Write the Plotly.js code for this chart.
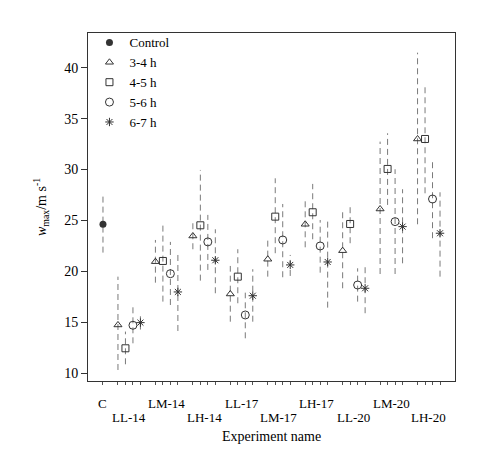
<!DOCTYPE html>
<html>
<head>
<meta charset="utf-8">
<script src="https://cdn.plot.ly/plotly-3.0.1.min.js"></script>
<style>html,body{margin:0;padding:0;background:#fff;}#chart{width:485px;height:449px;}</style>
</head>
<body>
<div id="chart"></div>
<script>
// ---- data ----
var categories = ['LL-14','LM-14','LH-14','LL-17','LM-17','LH-17','LL-20','LM-20','LH-20'];
var seriesNames = ['3-4 h','4-5 h','5-6 h','6-7 h'];

var controlLabel = 'C';
var controlMean = 24.63, controlHi = 27.5, controlLo = 21.85;

var h34Mean = [14.75, 20.96, 23.48, 17.79, 21.20, 24.63, 22.04, 26.13, 33.00];
var h34Hi   = [19.49, 23.09, 24.73, 20.54, 23.09, 27.18, 25.87, 32.74, 41.47];
var h34Lo   = [10.33, 18.90, 22.18, 15.07, 19.49, 22.37, 18.35, 19.75, 24.63];

var h45Mean = [12.46, 21.03, 24.53, 19.49, 25.38, 25.81, 24.66, 30.06, 33.00];
var h45Hi   = [14.10, 24.83, 29.96, 22.18, 29.14, 28.59, 26.62, 33.56, 38.14];
var h45Lo   = [10.89, 17.04, 19.10, 16.88, 21.79, 23.16, 22.77, 26.53, 27.67];

var h56Mean = [14.72, 19.78, 22.90, 15.73, 23.09, 22.50, 18.67, 24.89, 27.11];
var h56Hi   = [16.71, 22.90, 25.55, 17.92, 26.62, 25.05, 20.31, 30.03, 31.11];
var h56Lo   = [12.95, 16.71, 20.15, 13.44, 19.43, 19.88, 17.04, 19.75, 23.26];

var h67Mean = [14.98, 17.99, 21.10, 17.62, 20.64, 20.93, 18.35, 24.40, 23.75];
var h67Hi   = [15.60, 21.85, 24.14, 20.22, 21.62, 25.22, 20.74, 28.07, 27.77];
var h67Lo   = [14.30, 14.16, 17.86, 15.07, 19.56, 16.45, 15.90, 20.80, 19.49];

var yTickVals = [10, 15, 20, 25, 30, 35, 40];

// ---- layout helpers (positions) ----
var means = [h34Mean, h45Mean, h56Mean, h67Mean];
var his = [h34Hi, h45Hi, h56Hi, h67Hi];
var los = [h34Lo, h45Lo, h56Lo, h67Lo];
var symbols = ['triangle-up-open', 'square-open', 'circle-open', 'asterisk-open'];
var sizes = [7, 7, 8, 7];
function pos(g, k) { return 2 + 5 * g + k; }

var lineColor = '#7a7a7a';
var markColor = '#333333';
var font = 'Liberation Serif, Times New Roman, serif';

// error lines (dashed, no caps)
var ex = [0, 0, null], ey = [controlLo, controlHi, null];
for (var k = 0; k < 4; k++) {
  for (var g = 0; g < categories.length; g++) {
    ex.push(pos(g, k), pos(g, k), null);
    ey.push(los[k][g], his[k][g], null);
  }
}
var traces = [{
  x: ex, y: ey, mode: 'lines', showlegend: false, hoverinfo: 'skip',
  line: {color: lineColor, width: 1, dash: '6px,4px'}
}];

traces.push({
  x: [0], y: [controlMean], mode: 'markers', name: 'Control',
  marker: {symbol: 'circle', size: 7, color: markColor}
});
for (var k = 0; k < 4; k++) {
  var xs = [];
  for (var g = 0; g < categories.length; g++) xs.push(pos(g, k));
  traces.push({
    x: xs, y: means[k], mode: 'markers', name: seriesNames[k],
    marker: {symbol: symbols[k], size: sizes[k], color: markColor, line: {color: markColor, width: 1}}
  });
}

var tickPos = [0];
for (var g = 0; g < categories.length; g++) for (var k = 0; k < 4; k++) tickPos.push(pos(g, k));

var annotations = [];
var labelX = [0], labelT = [controlLabel];
for (var g = 0; g < categories.length; g++) { labelX.push(pos(g, 1.5)); labelT.push(categories[g]); }
for (var i = 0; i < labelX.length; i++) {
  annotations.push({
    x: labelX[i], xref: 'x', y: 0, yref: 'paper', yanchor: 'middle',
    yshift: (i % 2 === 0) ? -22 : -36, showarrow: false, text: labelT[i],
    font: {family: font, size: 13, color: '#000'}
  });
}
annotations.push({
  x: 0.5, xref: 'paper', y: 0, yref: 'paper', yanchor: 'middle', yshift: -55,
  showarrow: false, text: 'Experiment name', font: {family: font, size: 14, color: '#000'}
});

var layout = {
  width: 485, height: 449,
  margin: {l: 88, r: 30, t: 33, b: 68},
  paper_bgcolor: '#fff', plot_bgcolor: '#fff',
  font: {family: font, size: 13, color: '#000'},
  showlegend: true,
  legend: {x: 0.004, y: 1.016, xanchor: 'left', yanchor: 'top', bgcolor: 'rgba(0,0,0,0)',
           font: {family: font, size: 13, color: '#000'}, tracegroupgap: 0, itemwidth: 30},
  xaxis: {
    range: [-2, 47], showgrid: false, zeroline: false,
    showline: true, mirror: true, linecolor: '#333', linewidth: 1,
    tickmode: 'array', tickvals: tickPos, ticks: 'outside', ticklen: 3, tickcolor: '#555',
    showticklabels: false
  },
  yaxis: {
    range: [9.25, 43.4], showgrid: false, zeroline: false,
    showline: true, mirror: true, linecolor: '#333', linewidth: 1,
    tickmode: 'array', tickvals: yTickVals, ticks: 'outside', ticklen: 6, tickcolor: '#333',
    tickfont: {family: font, size: 14, color: '#000'},
    title: {text: '<i>w</i><sub>max</sub>/m s<sup>-1</sup>', font: {family: font, size: 14, color: '#000'}, standoff: 14}
  },
  annotations: annotations
};

Plotly.newPlot('chart', traces, layout, {displayModeBar: false, staticPlot: true});
</script>
</body>
</html>
